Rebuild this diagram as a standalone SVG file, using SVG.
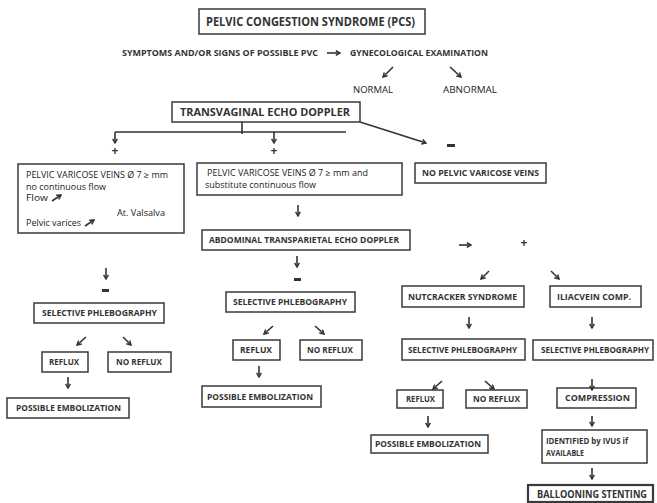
<svg xmlns="http://www.w3.org/2000/svg" width="657" height="503" viewBox="0 0 657 503">
<defs>
<marker id="ah" viewBox="0 0 10 10" refX="8" refY="5" markerWidth="6" markerHeight="6" markerUnits="userSpaceOnUse" orient="auto">
<path d="M1,1 L8,5 L1,9" fill="none" stroke="#333" stroke-width="2.4"/>
</marker>
</defs>
<style>
.b{fill:#fff;stroke:#3a3a3a;stroke-width:1.5}
.t{font-family:"Open Sans","Liberation Sans",sans-serif;font-size:8.5px;font-weight:bold;fill:#333}
.n{font-family:"Open Sans","Liberation Sans",sans-serif;font-size:8.5px;font-weight:normal;fill:#222}
.s{font-family:"Open Sans","Liberation Sans",sans-serif;font-weight:bold;fill:#333;text-anchor:middle}
.a{fill:none;stroke:#333;stroke-width:1.6;marker-end:url(#ah)}
.l{fill:none;stroke:#333;stroke-width:1.6}
</style>
<rect width="657" height="503" fill="#fff"/>

<g id="title">
<rect class="b" x="199" y="9" width="226" height="25"/>
<text class="t" style="font-size:12px" x="206" y="26.3" textLength="209" lengthAdjust="spacingAndGlyphs">PELVIC CONGESTION SYNDROME (PCS)</text>
</g>
<g id="symptoms">
<text class="t" style="font-size:9px" x="122" y="56.3" textLength="196" lengthAdjust="spacingAndGlyphs">SYMPTOMS AND/OR SIGNS OF POSSIBLE PVC</text>
</g>
<g id="gyn">
<text class="t" style="font-size:9px" x="350" y="56.3" textLength="138" lengthAdjust="spacingAndGlyphs">GYNECOLOGICAL EXAMINATION</text>
</g>
<g id="normal">
<text class="n" x="353" y="93" textLength="40" lengthAdjust="spacingAndGlyphs">NORMAL</text>
</g>
<g id="abnormal">
<text class="n" x="443" y="93" textLength="54" lengthAdjust="spacingAndGlyphs">ABNORMAL</text>
</g>
<g id="tved">
<rect class="b" x="172" y="102" width="188" height="20"/>
<text class="t" style="font-size:11px" x="180" y="115.5" textLength="170" lengthAdjust="spacingAndGlyphs">TRANSVAGINAL ECHO DOPPLER</text>
</g>
<g id="pvv-left">
<rect class="b" x="18" y="164" width="166" height="69"/>
<text class="n" x="26" y="178.2" textLength="142" lengthAdjust="spacingAndGlyphs">PELVIC VARICOSE VEINS Ø 7 ≥ mm</text>
<text class="n" x="26" y="189.5" textLength="80" lengthAdjust="spacingAndGlyphs">no continuous flow</text>
<text class="n" x="26" y="200.5" textLength="22" lengthAdjust="spacingAndGlyphs">Flow</text>
<text class="n" x="117" y="215.5" textLength="48" lengthAdjust="spacingAndGlyphs">At. Valsalva</text>
<text class="n" x="26" y="226" textLength="55" lengthAdjust="spacingAndGlyphs">Pelvic varices</text>
<path class="a" d="M52,201 L61,195"/>
<path class="a" d="M85,226 L94,220"/>
</g>
<g id="pvv-mid">
<rect class="b" x="197" y="163" width="205" height="32"/>
<text class="n" x="207" y="176" textLength="161" lengthAdjust="spacingAndGlyphs">PELVIC VARICOSE VEINS Ø 7 ≥ mm and</text>
<text class="n" x="205" y="188" textLength="111" lengthAdjust="spacingAndGlyphs">substitute continuous flow</text>
</g>
<g id="npv">
<rect class="b" x="415" y="163" width="131" height="20"/>
<text class="t" x="422" y="176" textLength="117" lengthAdjust="spacingAndGlyphs">NO PELVIC VARICOSE VEINS</text>
</g>
<g id="ated">
<rect class="b" x="202" y="230" width="208" height="20"/>
<text class="t" x="209" y="243" textLength="190" lengthAdjust="spacingAndGlyphs">ABDOMINAL TRANSPARIETAL ECHO DOPPLER</text>
</g>
<g id="sp-left">
<rect class="b" x="34" y="303" width="130" height="20"/>
<text class="t" x="42" y="316" textLength="115" lengthAdjust="spacingAndGlyphs">SELECTIVE PHLEBOGRAPHY</text>
</g>
<g id="reflux-left">
<rect class="b" x="42" y="352" width="46" height="20"/>
<text class="t" x="49" y="365" textLength="30" lengthAdjust="spacingAndGlyphs">REFLUX</text>
</g>
<g id="noreflux-left">
<rect class="b" x="108" y="352" width="63" height="20"/>
<text class="t" x="116" y="365" textLength="46" lengthAdjust="spacingAndGlyphs">NO REFLUX</text>
</g>
<g id="pe-left">
<rect class="b" x="7" y="398" width="122" height="20"/>
<text class="t" x="16" y="411" textLength="105" lengthAdjust="spacingAndGlyphs">POSSIBLE EMBOLIZATION</text>
</g>
<g id="sp-mid">
<rect class="b" x="226" y="292" width="129" height="20"/>
<text class="t" x="233" y="305" textLength="114" lengthAdjust="spacingAndGlyphs">SELECTIVE PHLEBOGRAPHY</text>
</g>
<g id="reflux-mid">
<rect class="b" x="233" y="340" width="47" height="20"/>
<text class="t" x="240" y="353" textLength="32" lengthAdjust="spacingAndGlyphs">REFLUX</text>
</g>
<g id="noreflux-mid">
<rect class="b" x="300" y="340" width="62" height="20"/>
<text class="t" x="307" y="353" textLength="46" lengthAdjust="spacingAndGlyphs">NO REFLUX</text>
</g>
<g id="pe-mid">
<rect class="b" x="202" y="386" width="119" height="21"/>
<text class="t" x="207" y="399.5" textLength="106" lengthAdjust="spacingAndGlyphs">POSSIBLE EMBOLIZATION</text>
</g>
<g id="nutcracker">
<rect class="b" x="402" y="286" width="122" height="21"/>
<text class="t" x="408" y="299.5" textLength="109" lengthAdjust="spacingAndGlyphs">NUTCRACKER SYNDROME</text>
</g>
<g id="iliac">
<rect class="b" x="550" y="286" width="91" height="21"/>
<text class="t" x="557" y="299.5" textLength="74" lengthAdjust="spacingAndGlyphs">ILIACVEIN COMP.</text>
</g>
<g id="sp-right1">
<rect class="b" x="402" y="339" width="123" height="21"/>
<text class="t" x="408" y="352.5" textLength="109" lengthAdjust="spacingAndGlyphs">SELECTIVE PHLEBOGRAPHY</text>
</g>
<g id="sp-right2">
<rect class="b" x="533" y="340" width="120" height="20"/>
<text class="t" x="541" y="353" textLength="108" lengthAdjust="spacingAndGlyphs">SELECTIVE PHLEBOGRAPHY</text>
</g>
<g id="reflux-right">
<rect class="b" x="397" y="390" width="46" height="18"/>
<text class="t" x="406" y="402" textLength="29" lengthAdjust="spacingAndGlyphs">REFLUX</text>
</g>
<g id="noreflux-right">
<rect class="b" x="466" y="390" width="61" height="18"/>
<text class="t" x="473" y="402" textLength="47" lengthAdjust="spacingAndGlyphs">NO REFLUX</text>
</g>
<g id="compression">
<rect class="b" x="557" y="388" width="79" height="20"/>
<text class="t" x="565" y="401" textLength="65" lengthAdjust="spacingAndGlyphs">COMPRESSION</text>
</g>
<g id="pe-right">
<rect class="b" x="371" y="435" width="117" height="18"/>
<text class="t" x="375" y="447" textLength="106" lengthAdjust="spacingAndGlyphs">POSSIBLE EMBOLIZATION</text>
</g>
<g id="ivus">
<rect class="b" x="542" y="430" width="105" height="33"/>
<text class="t" x="546" y="444" textLength="82" lengthAdjust="spacingAndGlyphs">IDENTIFIED by IVUS if</text>
<text class="t" x="546" y="456" textLength="38" lengthAdjust="spacingAndGlyphs">AVAILABLE</text>
</g>
<g id="ballooning">
<rect class="b" style="stroke-width:2.2" x="528" y="485" width="125" height="17"/>
<text class="t" style="font-size:10px" x="537" y="497.5" textLength="110" lengthAdjust="spacingAndGlyphs">BALLOONING STENTING</text>
</g>

<g id="signs">
<text class="s" style="font-size:12px" x="115" y="155">+</text>
<text class="s" style="font-size:12px" x="274" y="155">+</text>
<text class="s" style="font-size:12px" x="524" y="247">+</text>
<rect x="447" y="144" width="8" height="3" fill="#333"/>
<rect x="102" y="289" width="7" height="3" fill="#333"/>
<rect x="294" y="278" width="7" height="3" fill="#333"/>
</g>

<g id="connectors">
<path class="a" d="M327,53 L340,53"/>
<path class="a" d="M393,67 L383,77"/>
<path class="a" d="M450,67 L461,77"/>
<path class="l" d="M242,122 L242,134"/>
<path class="l" d="M115,132 L346,132"/>
<path class="a" d="M115,132 L115,143"/>
<path class="a" d="M274,132 L274,143"/>
<path class="a" d="M360,122 L426,143"/>
<path class="a" d="M106,268 L106,279"/>
<path class="a" d="M298,205 L298,216"/>
<path class="a" d="M297,256 L297,267"/>
<path class="a" d="M86,337 L77,345"/>
<path class="a" d="M123,337 L131,345"/>
<path class="a" d="M68,377 L68,388"/>
<path class="a" d="M273,326 L264,334"/>
<path class="a" d="M315,326 L324,334"/>
<path class="a" d="M259,366 L259,377"/>
<path class="a" d="M459,245 L471,245"/>
<path class="a" d="M489,271 L481,279"/>
<path class="a" d="M551,271 L559,279"/>
<path class="a" d="M469,317 L469,328"/>
<path class="a" d="M592,317 L592,328"/>
<path class="a" d="M442,381 L433,389"/>
<path class="a" d="M485,381 L494,389"/>
<path class="a" d="M592,379 L592,390"/>
<path class="a" d="M428,416 L428,427"/>
<path class="a" d="M592,416 L592,426"/>
<path class="a" d="M592,468 L592,479"/>
</g>
</svg>
